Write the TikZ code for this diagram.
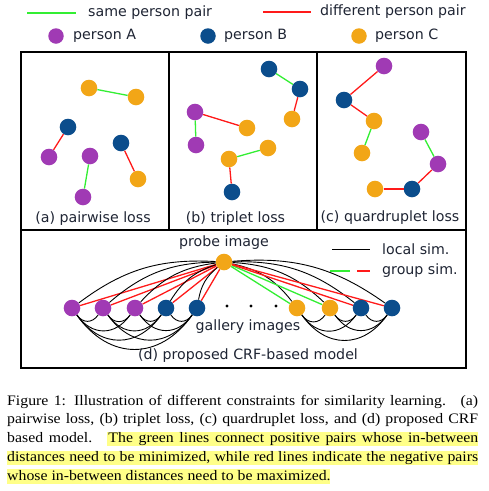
\documentclass[tikz,border=0pt]{standalone}
\usepackage{fontspec}
\setmainfont{Liberation Serif}
\newfontfamily\dejavu{DejaVu Sans}
\newfontfamily\capfont[FakeStretch=1.09]{Liberation Serif}
\usetikzlibrary{calc}
\pgfdeclarelayer{bg}
\pgfdeclarelayer{hl}
\pgfsetlayers{hl,bg,main}
\definecolor{pA}{HTML}{A03AB4}
\definecolor{pB}{HTML}{0B4D8C}
\definecolor{pC}{HTML}{F2A617}
\definecolor{gline}{HTML}{33EE33}
\definecolor{rline}{HTML}{FF1A1A}
\definecolor{txt}{HTML}{1E2433}
\definecolor{hly}{HTML}{FFFF88}
\tikzset{
  gdot/.style={circle,inner sep=0pt,minimum size=16.6pt,fill=#1},
  ldot/.style={circle,inner sep=0pt,minimum size=15.5pt,fill=#1},
  tdot/.style={circle,inner sep=0pt,minimum size=3.4pt,fill=black},
  lbl/.style={font=\dejavu\fontsize{14.2}{16}\selectfont,text=txt,inner sep=0pt},
  captxt/.style={font=\capfont\fontsize{14.5}{16}\selectfont,anchor=base west,inner sep=0pt},
  posline/.style={draw=gline,line width=1.3pt},
  negline/.style={draw=rline,line width=1.3pt},
  locline/.style={draw=black,line width=0.9pt},
  panel/.style={draw=black,line width=1.3pt},
}
\begin{document}
\begin{tikzpicture}[x=1pt,y=-1pt]
\useasboundingbox (0,0) rectangle (489,491);
% ---------- legend ----------
\coordinate (lg1) at (27,13); \coordinate (lg2) at (76,13);
\coordinate (lr1) at (263,12); \coordinate (lr2) at (311,12);
\draw[posline] (lg1) -- (lg2);
\draw[negline] (lr1) -- (lr2);
\node[lbl,anchor=west] (tsame) at (88,13) {same person pair};
\node[lbl,anchor=west] (tdiff) at (320,12) {different person pair};
\node[ldot=pA] (la) at (56,36) {};
\node[lbl,anchor=west] (ta) at (73,36) {person A};
\node[ldot=pB] (lb) at (208,36) {};
\node[lbl,anchor=west] (tb) at (224,36) {person B};
\node[ldot=pC] (lc) at (359,36) {};
\node[lbl,anchor=west] (tc) at (375,36) {person C};
% ---------- panels ----------
\draw[panel] (21,52) rectangle (169,230);
\draw[panel] (169,52) rectangle (317,230);
\draw[panel] (317,52) rectangle (466,230);
\draw[panel] (21,230) rectangle (466,368);
% ---------- (a) ----------
\node[gdot=pC] (a1) at (89,88) {};
\node[gdot=pC] (a2) at (136,97) {};
\node[gdot=pB] (a3) at (68,127) {};
\node[gdot=pA] (a4) at (49,157) {};
\node[gdot=pA] (a5) at (90,156) {};
\node[gdot=pA] (a6) at (83,197) {};
\node[gdot=pB] (a7) at (121,143) {};
\node[gdot=pC] (a8) at (138,179) {};
\draw[posline] (a1) -- (a2);
\draw[negline] (a3) -- (a4);
\draw[posline] (a5) -- (a6);
\draw[negline] (a7) -- (a8);
\node[lbl] (laa) at (93,219) {(a) pairwise loss};
% ---------- (b) ----------
\node[gdot=pB] (b1) at (269,69) {};
\node[gdot=pB] (b2) at (300,89) {};
\node[gdot=pC] (b3) at (292,119) {};
\node[gdot=pA] (b4) at (195,112) {};
\node[gdot=pC] (b5) at (247,128) {};
\node[gdot=pA] (b6) at (196,145) {};
\node[gdot=pC] (b7) at (268,148) {};
\node[gdot=pC] (b8) at (229,159) {};
\node[gdot=pB] (b9) at (232,192) {};
\draw[posline] (b1) -- (b2);
\draw[negline] (b2) -- (b3);
\draw[negline] (b4) -- (b5);
\draw[posline] (b4) -- (b6);
\draw[posline] (b7) -- (b8);
\draw[negline] (b8) -- (b9);
\node[lbl] (lbb) at (235.5,219) {(b) triplet loss};
% ---------- (c) ----------
\node[gdot=pA] (c1) at (384,66) {};
\node[gdot=pB] (c2) at (344,100) {};
\node[gdot=pC] (c3) at (374,121) {};
\node[gdot=pC] (c4) at (362,153) {};
\node[gdot=pA] (c5) at (421,132) {};
\node[gdot=pA] (c6) at (438,164) {};
\node[gdot=pB] (c7) at (412,189) {};
\node[gdot=pC] (c8) at (375,189) {};
\draw[negline] (c1) -- (c2);
\draw[negline] (c2) -- (c3);
\draw[posline] (c3) -- (c4);
\draw[posline] (c5) -- (c6);
\draw[negline] (c6) -- (c7);
\draw[negline] (c8) -- (c7);
\node[lbl] (lcc) at (390,218) {(c) quardruplet loss};
% ---------- (d) ----------
\node[lbl] (tprobe) at (224,243) {probe image};
\node[gdot=pC] (p) at (224,262) {};
\node[gdot=pA] (g1) at (72,308) {};
\node[gdot=pA] (g2) at (103,308) {};
\node[gdot=pA] (g3) at (135,308) {};
\node[gdot=pB] (g4) at (166,308) {};
\node[gdot=pB] (g5) at (197,308) {};
\node[tdot] (e1) at (227,306) {};
\node[tdot] (e2) at (251,306) {};
\node[tdot] (e3) at (276,306) {};
\node[gdot=pC] (g6) at (297,308) {};
\node[gdot=pC] (g7) at (330,308) {};
\node[gdot=pB] (g8) at (361,308) {};
\node[gdot=pB] (g9) at (392,308) {};
\begin{pgfonlayer}{bg}
\foreach \i in {1,...,5} {
  \draw[locline] (g\i) to[bend left=20] (p);
  \draw[negline] (g\i) -- (p);
}
\foreach \i in {6,7} {
  \draw[locline] (p) to[bend left=20] (g\i);
  \draw[posline] (p) -- (g\i);
}
\foreach \i in {8,9} {
  \draw[locline] (p) to[bend left=20] (g\i);
  \draw[negline] (p) -- (g\i);
}
\foreach \i/\j in {1/2,1/3,1/4,1/5,2/3,2/4,2/5,3/4,3/5,4/5,6/7,6/8,6/9,7/8,7/9,8/9} {
  \draw[locline] (g\i) to[bend right=55,looseness=1.25] (g\j);
}
\end{pgfonlayer}
\node[lbl] (tgal) at (248,327) {gallery images};
\node[lbl] (tcrf) at (248,356) {(d) proposed CRF-based model};
\coordinate (k1) at (332,249); \coordinate (k2) at (370,249);
\coordinate (k3) at (330,271); \coordinate (k4) at (350,271);
\coordinate (k5) at (357,271); \coordinate (k6) at (370,271);
\draw[locline] (k1) -- (k2);
\draw[posline] (k3) -- (k4);
\draw[negline] (k5) -- (k6);
\node[lbl,anchor=west] (tloc) at (382,249) {local sim.};
\node[lbl,anchor=west] (tgrp) at (382,271) {group sim.};
% ---------- caption ----------
\begin{pgfonlayer}{hl}
\fill[hly] (107,431.5) rectangle (478,446);
\fill[hly] (7,450.5) rectangle (478,465);
\fill[hly] (7,469) rectangle (330,483.5);
\end{pgfonlayer}
\node[captxt] (cap1) at (7,405) {\makebox[471pt][s]{Figure 1: Illustration of different constraints for similarity learning. \ (a)}};
\node[captxt] (cap2) at (7,423.5) {\makebox[471pt][s]{pairwise loss, (b) triplet loss, (c) quardruplet loss, and (d) proposed CRF}};
\node[captxt] (cap3) at (7,442.5) {\makebox[471pt][s]{based model. \ The green lines connect positive pairs whose in-between}};
\node[captxt] (cap4) at (7,461.5) {\makebox[471pt][s]{distances need to be minimized, while red lines indicate the negative pairs}};
\node[captxt] (cap5) at (7,480) {whose in-between distances need to be maximized.};
\end{tikzpicture}
\end{document}
